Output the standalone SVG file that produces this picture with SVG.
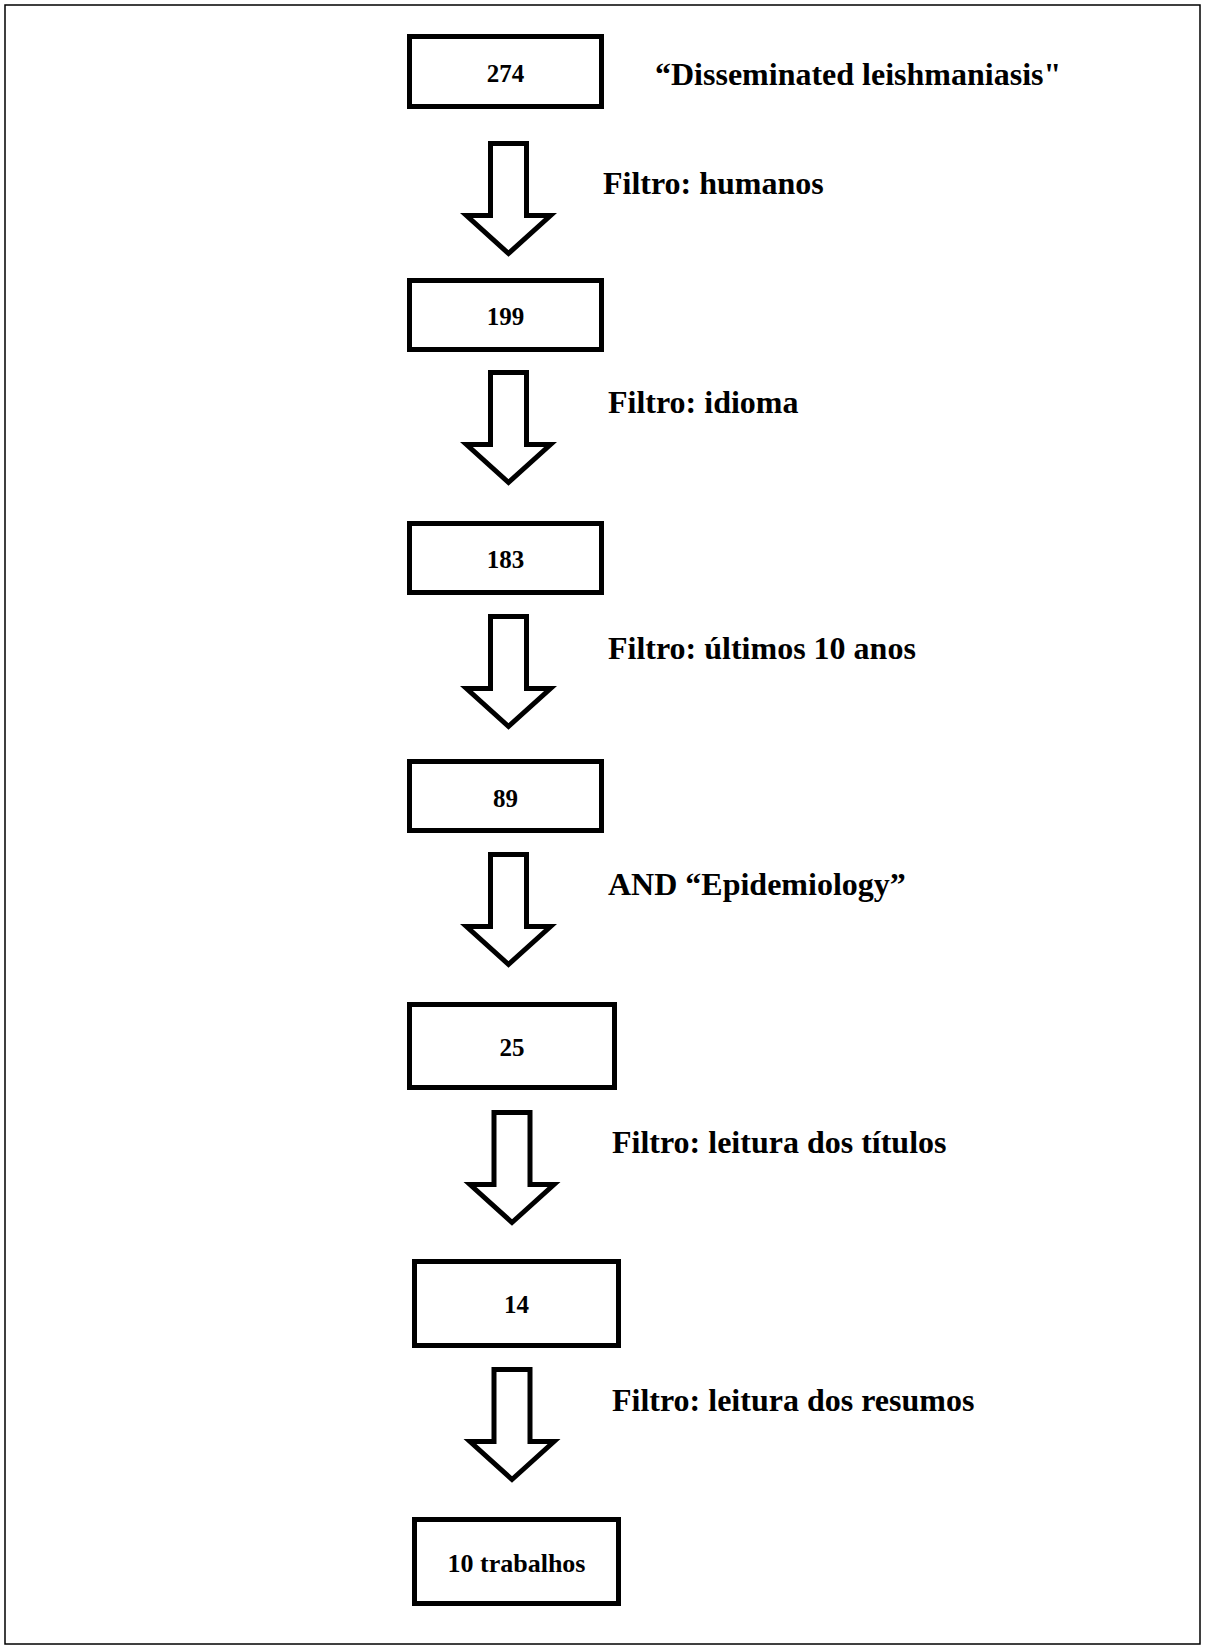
<svg xmlns="http://www.w3.org/2000/svg" xmlns:xlink="http://www.w3.org/1999/xlink" width="1205" height="1649" viewBox="0 0 1205 1649">
  <style>
    .box { fill: #ffffff; stroke: #000000; stroke-width: 5; }
    .arrow { fill: #ffffff; stroke: #000000; stroke-width: 5; stroke-linejoin: miter; stroke-miterlimit: 10; }
    .num { font-family: "Liberation Serif", "Times New Roman", serif; font-weight: bold; font-size: 25px; text-anchor: middle; fill: #000000; }
    .big { font-size: 26px; }
    .lbl { font-family: "Liberation Serif", "Times New Roman", serif; font-weight: bold; font-size: 32px; fill: #000000; }
    .frame { fill: none; stroke: #000000; stroke-width: 1.5; }
  </style>
  <defs>
    <path id="blockArrow" d="M -18,0 H 18 V 72 H 42 L 0,110 L -42,72 H -18 Z"/>
  </defs>
  <rect class="frame" x="5" y="5" width="1195" height="1639"/>

  <g id="connectors">
    <use xlink:href="#blockArrow" class="arrow" transform="translate(508.5,143.5)"/>
    <use xlink:href="#blockArrow" class="arrow" transform="translate(508.5,372.5)"/>
    <use xlink:href="#blockArrow" class="arrow" transform="translate(508.5,616.5)"/>
    <use xlink:href="#blockArrow" class="arrow" transform="translate(508.5,854.5)"/>
    <use xlink:href="#blockArrow" class="arrow" transform="translate(512,1112.5)"/>
    <use xlink:href="#blockArrow" class="arrow" transform="translate(512,1369.5)"/>
  </g>

  <g id="labels">
    <text class="lbl" x="655" y="85">“Disseminated leishmaniasis"</text>
    <text class="lbl" x="603" y="194">Filtro: humanos</text>
    <text class="lbl" x="608" y="413">Filtro: idioma</text>
    <text class="lbl" x="608" y="659">Filtro: últimos 10 anos</text>
    <text class="lbl" x="608" y="895">AND “Epidemiology”</text>
    <text class="lbl" x="612" y="1153">Filtro: leitura dos títulos</text>
    <text class="lbl" x="612" y="1411">Filtro: leitura dos resumos</text>
  </g>

  <g id="node-274">
    <rect class="box" x="409.5" y="36.5" width="192" height="70"/>
    <text class="num" x="505.5" y="82">274</text>
  </g>
  <g id="node-199">
    <rect class="box" x="409.5" y="280.5" width="192" height="69"/>
    <text class="num" x="505.5" y="325">199</text>
  </g>
  <g id="node-183">
    <rect class="box" x="409.5" y="523.5" width="192" height="69"/>
    <text class="num" x="505.5" y="568">183</text>
  </g>
  <g id="node-89">
    <rect class="box" x="409.5" y="761.5" width="192" height="69"/>
    <text class="num" x="505.5" y="807">89</text>
  </g>
  <g id="node-25">
    <rect class="box" x="409.5" y="1004.5" width="205" height="83"/>
    <text class="num" x="512" y="1056">25</text>
  </g>
  <g id="node-14">
    <rect class="box" x="414.5" y="1261.5" width="204" height="84"/>
    <text class="num" x="516.5" y="1313">14</text>
  </g>
  <g id="node-10">
    <rect class="box" x="414.5" y="1519.5" width="204" height="84"/>
    <text class="num big" x="516.5" y="1572">10 trabalhos</text>
  </g>
</svg>
